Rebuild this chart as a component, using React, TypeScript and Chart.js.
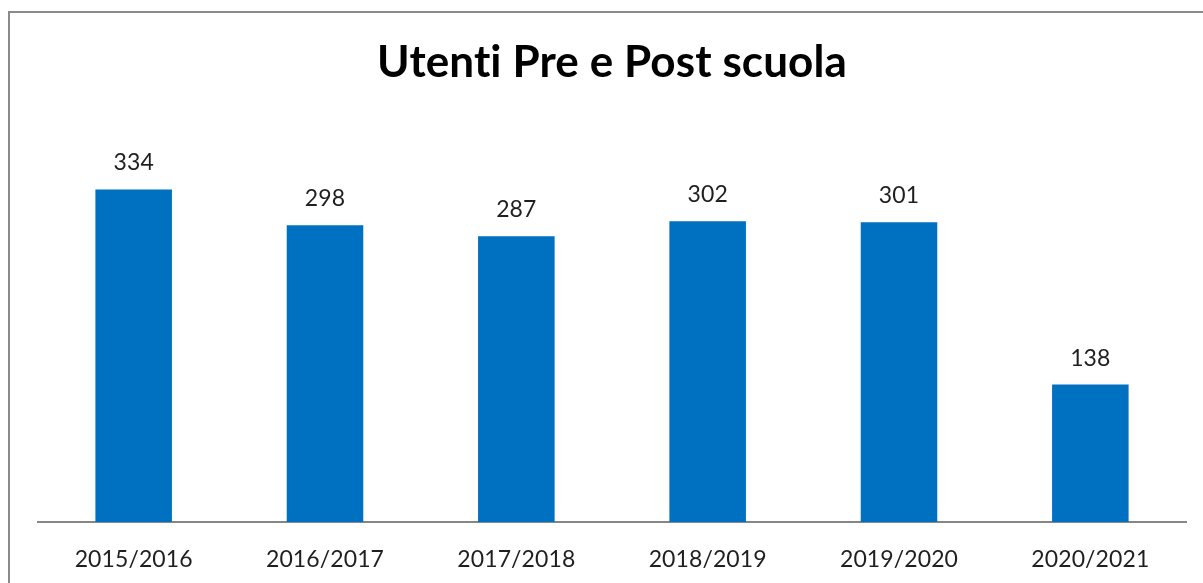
import React, { useEffect, useRef } from "react";
import { Chart, registerables } from "chart.js";

Chart.register(...registerables);

const categories = ["2015/2016", "2016/2017", "2017/2018", "2018/2019", "2019/2020", "2020/2021"];
const values = [334, 298, 287, 302, 301, 138];
const titleText = "Utenti Pre e Post scuola";

const FONT = "Lato";

const noLigatures = {
  id: "noLigatures",
  beforeDraw(chart: any) {
    const c: any = chart.ctx;
    try {
      c.textRendering = "optimizeSpeed";
    } catch (e) {}
    try {
      c.letterSpacing = "0.1px";
    } catch (e) {}
  },
};

const valueLabels = {
  id: "valueLabels",
  afterDatasetsDraw(chart: any) {
    const ctx = chart.ctx;
    const meta = chart.getDatasetMeta(0);
    ctx.save();
    ctx.font = `23px ${FONT}`;
    ctx.fillStyle = "#1f1f1f";
    ctx.textAlign = "center";
    ctx.textBaseline = "bottom";
    meta.data.forEach((bar: any, i: number) => {
      ctx.fillText(String(values[i]), bar.x, bar.y - 15);
    });
    ctx.restore();
  },
};

export default function App() {
  const ref = useRef<HTMLCanvasElement>(null);
  useEffect(() => {
    document.body.style.margin = "0";
    const chart = new Chart(ref.current!, {
      type: "bar",
      data: {
        labels: categories,
        datasets: [
          {
            data: values,
            backgroundColor: "#0070C0",
            borderWidth: 0,
            barPercentage: 0.4,
            categoryPercentage: 1,
          },
        ],
      },
      options: {
        animation: false,
        responsive: false,
        maintainAspectRatio: false,
        layout: { padding: { left: 38, right: 17, top: 0, bottom: 11 } },
        plugins: {
          legend: { display: false },
          tooltip: { enabled: false },
          title: {
            display: true,
            text: titleText,
            color: "#000000",
            font: { family: FONT, size: 44, weight: "bold", lineHeight: 1.2 },
            padding: { top: 36, bottom: 35 },
          },
        },
        scales: {
          x: {
            grid: { display: false, drawTicks: false },
            border: { display: true, color: "#868686", width: 2 },
            ticks: { color: "#1f1f1f", font: { family: FONT, size: 23 }, padding: 24, maxRotation: 0 },
            afterFit: (scale: any) => {
              scale.height = 50;
            },
          },
          y: {
            display: false,
            min: 0,
            max: 400,
          },
        },
      },
      plugins: [noLigatures, valueLabels],
    });
    return () => chart.destroy();
  }, []);
  return (
    <div style={{ position: "relative", width: 1203, height: 583, overflow: "hidden", background: "#fff" }}>
      <div
        style={{
          position: "absolute",
          left: 8,
          top: 11,
          width: 1400,
          height: 800,
          border: "2px solid #8a8a8a",
          boxSizing: "border-box",
        }}
      />
      <canvas ref={ref} width={1203} height={583} style={{ position: "absolute", left: 0, top: 0 }} />
    </div>
  );
}
